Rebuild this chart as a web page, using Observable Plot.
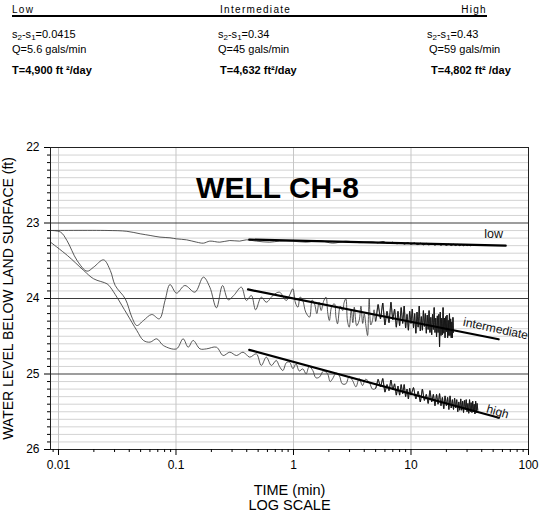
<!DOCTYPE html>
<html><head><meta charset="utf-8">
<script src="https://cdn.jsdelivr.net/npm/d3@7"></script>
<script src="https://cdn.jsdelivr.net/npm/@observablehq/plot@0.6"></script>
<style>
body{margin:0;background:#fff;font-family:"Liberation Sans",Arial,sans-serif;}
#hdr{position:relative;width:540px;height:100px;}
#hdr span{position:absolute;white-space:nowrap;line-height:1;color:#000;}
#hdr .h{font-size:10px;letter-spacing:1.3px;}
#hdr .r{font-size:11px;}
#hdr .b{font-size:11px;font-weight:bold;}
#hdr sub{font-size:8px;vertical-align:-2px;line-height:0;}
#uline{position:absolute;left:12px;top:14.5px;width:475px;height:2.5px;background:#000;}
</style></head><body>
<div id="hdr"><div id="uline"></div></div>
<div id="chart"></div>
<script>
// ---------- header data ----------
const groupNames = ["Low", "Intermediate", "High"];
const drawdown = ["0.0415", "0.34", "0.43"];
const discharge = ["5.6", "45", "59"];
const transmissivity = ["4,900 ft\u00a0²/day", "4,632 ft²/day", "4,802 ft² /day"];

// ---------- chart data ----------
const chartTitle = "WELL CH-8";
const yLabel = "WATER LEVEL BELOW LAND SURFACE (ft)";
const xLabel1 = "TIME (min)";
const xLabel2 = "LOG SCALE";
const xDomain = [0.00855, 100];
const yDomain = [22, 26];
const xTicks = [0.01, 0.1, 1, 10, 100];
const xTickLabels = ["0.01", "0.1", "1", "10", "100"];
const yTicks = [22, 23, 24, 25, 26];
const yMajorGrid = [23, 24, 25];
const xGrid = [0.01, 0.1, 1, 10];

// low pumping rate
const lowT = [0.00855,0.0259,0.0382,0.0496,0.0602,0.0731,0.0889,0.101,0.123,0.150,0.171,0.194,0.236,0.287,0.348,0.397,0.483,0.627,0.760,0.987,1.28,1.66,2.15,2.79,3.62,4.70,
  5.2,5.8,6.4,7.0,7.6,8.2,8.8,9.4,10,10.7,11.4,12.1,12.8,13.5,14.2,15,16,17,18,19,20,21,22,23,24,25,26,27,28,29,30,31,32,33];
const lowV = [23.099,23.099,23.11,23.143,23.165,23.187,23.196,23.210,23.223,23.254,23.267,23.240,23.254,23.232,23.240,23.223,23.240,23.254,23.240,23.241,23.254,23.232,23.267,23.241,23.26,23.25,
  23.262,23.248,23.27,23.255,23.275,23.26,23.278,23.262,23.28,23.265,23.285,23.268,23.288,23.27,23.29,23.272,23.292,23.275,23.293,23.278,23.295,23.28,23.297,23.282,23.298,23.283,23.3,23.285,23.3,23.286,23.302,23.288,23.3,23.29];

// intermediate pumping rate
const intT = [0.00855,0.0104,0.0118,0.0144,0.0175,0.0199,0.0242,0.0276,0.0304,0.0370,0.0421,0.0464,0.0529,0.0622,0.0722,0.0807,0.0889,0.101,0.119,0.145,0.171,0.194,0.221,0.249,0.278,0.310,0.360,0.397,0.438,0.476,0.532,0.587,0.668,0.760,
  0.867,0.93,0.987,1.04,1.09,1.14,1.20,1.27,1.37,1.44,1.51,1.58,1.65,1.72,1.80,1.89,1.96,2.02,2.12,2.23,2.30,2.37,2.50,2.62,2.70,2.79,2.88,2.98,3.10,3.20,3.29,3.45,3.62,3.75,3.88,4.00,4.15,4.27,4.35,4.41,4.55,4.70,4.85,
  5,5.25,5.5,5.75,6,6.25,6.5,6.75,7,7.25,7.5,7.75,8,8.25,8.5,8.75,9,9.25,9.5,9.75,10,10.25,10.5,10.75,11,11.25,11.5,11.75,12,12.25,12.5,12.75,13,13.25,13.5,13.75,14,14.25,14.5,14.75,15,15.25,15.5,15.75,16,16.25,16.5,16.75,17,17.25,17.5,17.75,18,18.25,18.5,18.75,19,19.25,19.5,19.75,20,20.25,20.5,20.75,21,21.25,21.5,21.75,22,22.25,22.5,22.75,23];
const intV = [23.099,23.12,23.232,23.497,23.638,23.585,23.488,23.629,23.828,24.004,24.247,24.358,24.291,24.212,24.269,24.026,23.815,23.929,23.828,23.916,23.717,23.850,24.124,23.828,24.018,23.960,23.850,24.026,23.960,24.150,23.982,24.049,23.960,23.916,
  24.026,23.95,23.872,24.06,24.115,23.98,24.026,24.18,24.247,24.02,24.071,24.20,24.05,24.159,24.04,23.982,24.20,24.291,24.10,24.071,24.25,24.335,24.10,24.159,24.05,24.004,24.30,24.380,24.15,24.32,24.115,24.36,24.291,24.10,24.33,24.203,24.38,24.490,24.20,24.004,24.35,24.291,24.15,
  24.30,24.08,24.27,24.06,24.35,24.17,24.32,24.05,24.28,24.14,
  24.38,24.17,24.36,24.12,24.33,24.10,24.39,24.21,24.42,24.17,
  24.33,24.14,24.39,24.20,24.46,24.18,24.38,24.10,24.43,24.24,
  24.42,24.16,24.37,24.20,24.46,24.22,24.41,24.16,24.45,24.25,
  24.48,24.21,24.41,24.12,24.45,24.26,24.51,24.23,24.45,24.21,
  24.64,24.18,24.49,24.26,24.48,24.12,24.46,24.26,24.52,24.24,
  24.44,24.22,24.52,24.29,24.49,24.20,24.49,24.27,24.52,24.31,
  24.52,24.25,24.45];

// high pumping rate
const highT = [0.00855,0.0119,0.0164,0.0199,0.0259,0.0276,0.0314,0.0382,0.0464,0.0529,0.0602,0.0686,0.0781,0.101,0.115,0.127,0.140,0.160,0.182,0.221,0.252,0.287,0.327,0.372,0.424,0.483,0.532,0.587,0.648,0.713,
  0.76,0.812,0.87,0.925,0.99,1.05,1.12,1.20,1.28,1.36,1.46,1.55,1.66,1.80,1.95,2.05,2.15,2.30,2.45,2.60,2.79,2.98,3.18,3.40,3.62,3.87,4.10,4.41,4.70,
  5,5.25,5.5,5.75,6,6.25,6.5,6.75,7,7.25,7.5,7.75,8,8.25,8.5,8.75,9,9.25,9.5,9.75,10,
  10.5,11,11.5,12,12.5,13,13.5,14,14.5,15,15.5,16,16.5,17,17.5,18,18.5,19,19.5,20,20.5,21,21.5,22,22.5,23,23.5,24,24.5,25,25.5,26,26.5,27,27.5,28,28.5,29,29.5,30,30.5,31,31.5,32,32.5,33,33.5,34,34.5,35,35.5,36,36.5,37];
const highV = [23.254,23.43,23.629,23.739,23.806,23.850,23.982,24.203,24.424,24.556,24.578,24.534,24.623,24.667,24.534,24.645,24.556,24.667,24.667,24.645,24.755,24.711,24.755,24.711,24.777,24.733,24.887,24.777,24.887,24.821,
  24.90,24.954,24.85,24.843,24.93,24.865,24.96,24.932,24.998,24.90,24.954,25.05,25.042,24.96,24.998,25.10,25.064,24.99,25.020,25.13,25.130,25.03,25.086,25.17,25.06,25.152,25.07,25.108,25.20,
  25.19,25.07,25.17,25.06,25.24,25.14,25.22,25.08,25.21,25.13,25.28,25.16,25.28,25.14,25.26,25.14,25.30,25.20,25.33,25.19,25.28,
  25.18,25.33,25.23,25.37,25.20,25.35,25.27,25.39,25.22,25.37,
  25.27,25.42,25.27,25.40,25.26,25.42,25.31,25.46,25.29,25.42,
  25.31,25.47,25.29,25.45,25.34,25.47,25.32,25.45,25.34,25.50,
  25.37,25.48,25.33,25.48,25.36,25.51,25.35,25.47,25.34,25.50,
  25.39,25.52,25.34,25.50,25.38,25.51,25.36,25.50,25.40,25.53,
  25.36,25.51,25.39,25.48];

// straight-line fits
const fitLowT = [0.42, 64],  fitLowV = [23.22, 23.30];
const fitIntT = [0.41, 55.7], fitIntV = [23.88, 24.54];
const fitHighT = [0.42, 56], fitHighV = [24.68, 25.58];

// curve labels
const labelNames = ["low", "intermediate", "high"];
const labelT = [50.5, 52.5, 54.6];
const labelV = [23.14, 24.40, 25.50];

// ---------- header ----------
const hdr = document.getElementById("hdr");
function addSpan(cls, html, style) {
  const s = document.createElement("span");
  s.className = cls; s.innerHTML = html; s.setAttribute("style", style);
  hdr.appendChild(s);
}
addSpan("h", groupNames[0], "left:12px;top:4.5px");
addSpan("h", groupNames[1], "left:220px;top:4.5px");
addSpan("h", groupNames[2], "right:53px;top:4.5px");
const col2 = [12, 218, 427], col3 = [12, 218, 429], col4 = [12, 220, 431];
for (let i = 0; i < 3; i++) {
  addSpan("r", "s<sub>2</sub>-s<sub>1</sub>=" + drawdown[i], `left:${col2[i]}px;top:28.5px`);
  addSpan("r", "Q=" + discharge[i] + " gals/min", `left:${col3[i]}px;top:43.5px`);
  addSpan("b", "T=" + transmissivity[i], `left:${col4[i]}px;top:65px`);
}

// ---------- chart ----------
const toRows = (T, V) => T.map((t, i) => ({t, v: V[i]}));
const lowData = toRows(lowT, lowV);
const intData = toRows(intT, intV);
const highData = toRows(highT, highV);
const denseStart = 4.9;
const minorY = d3.range(221, 260).map(d => d / 10).filter(d => !Number.isInteger(d));
const minorX = d3.scaleLog().domain(xDomain).ticks()
  .filter(d => Math.abs(Math.log10(d) - Math.round(Math.log10(d))) > 1e-6);

const font = '"Liberation Sans", Arial, sans-serif';
const dataStroke = "#3a3a3a";
const seriesMarks = [lowData, intData, highData].flatMap(data => [
  Plot.line(data, {x: "t", y: "v", stroke: dataStroke, strokeWidth: 0.85, curve: "catmull-rom"}),
  Plot.line(data.filter(d => d.t >= denseStart), {x: "t", y: "v", stroke: "#111", strokeWidth: 0.8})
]);
const chart = Plot.plot({
  width: 540, height: 417,
  marginTop: 47, marginBottom: 68, marginLeft: 50, marginRight: 12,
  style: {fontFamily: font, fontSize: "12px", color: "#000", background: "#fff", overflow: "visible"},
  x: {type: "log", domain: xDomain},
  y: {domain: yDomain, reverse: true},
  marks: [
    Plot.ruleY(minorY, {stroke: "#d3d3d3", strokeWidth: 1}),
    Plot.ruleX(xGrid, {stroke: "#c6c6c6", strokeWidth: 1}),
    Plot.ruleY(yMajorGrid, {stroke: "#3c3c3c", strokeWidth: 1.2}),
    ...seriesMarks,
    Plot.line(toRows(fitLowT, fitLowV), {x: "t", y: "v", stroke: "#000", strokeWidth: 2.2}),
    Plot.line(toRows(fitIntT, fitIntV), {x: "t", y: "v", stroke: "#000", strokeWidth: 2.2}),
    Plot.line(toRows(fitHighT, fitHighV), {x: "t", y: "v", stroke: "#000", strokeWidth: 2.2}),
    Plot.text([labelNames[0]], {x: () => labelT[0], y: () => labelV[0], text: d => d, fontSize: 12.5, fill: "#111"}),
    Plot.text([labelNames[1]], {x: () => labelT[1], y: () => labelV[1], text: d => d, fontSize: 12, rotate: 12, fill: "#111"}),
    Plot.text([labelNames[2]], {x: () => labelT[2], y: () => labelV[2], text: d => d, fontSize: 12, rotate: 16, fill: "#111"}),
    Plot.text([chartTitle], {frameAnchor: "top", dx: -12, dy: 50, lineAnchor: "bottom", text: d => d, fontSize: 30, fontWeight: "bold", fill: "#000"}),
    Plot.frame({stroke: "#222", strokeWidth: 1}),
    Plot.axisX(xTicks, {tickSize: 6, tickPadding: 5, tickFormat: d => xTickLabels[xTicks.indexOf(d)], fontSize: 12, label: null, stroke: "#000"}),
    Plot.axisX(minorX, {tickSize: 3, tickFormat: () => "", label: null, stroke: "#000"}),
    Plot.axisY(yTicks, {tickSize: 6, tickPadding: 5, tickFormat: d => String(d), fontSize: 12, label: null, stroke: "#000"}),
    Plot.axisY(minorY, {tickSize: 3, tickFormat: () => "", label: null, stroke: "#000"}),
    Plot.text([yLabel], {frameAnchor: "left", dx: -42, rotate: -90, textAnchor: "middle", lineAnchor: "middle", text: d => d, fontSize: 14, fill: "#000"}),
    Plot.text([xLabel1], {frameAnchor: "bottom", dy: 45, lineAnchor: "bottom", textAnchor: "middle", text: d => d, fontSize: 14.5, fill: "#000"}),
    Plot.text([xLabel2], {frameAnchor: "bottom", dy: 60, lineAnchor: "bottom", textAnchor: "middle", text: d => d, fontSize: 14.5, fill: "#000"})
  ]
});
document.getElementById("chart").appendChild(chart);
</script>
</body></html>
